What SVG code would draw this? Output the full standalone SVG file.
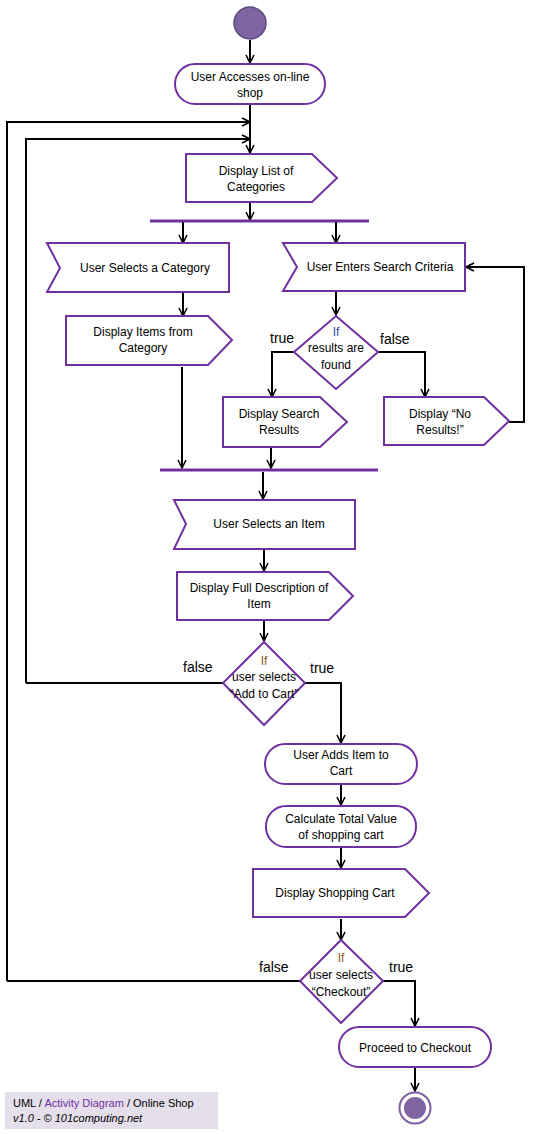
<svg xmlns="http://www.w3.org/2000/svg" width="535" height="1134" viewBox="0 0 535 1134">
<defs>
<marker id="arr" viewBox="0 0 10 10" refX="9" refY="5" markerWidth="10" markerHeight="10" markerUnits="userSpaceOnUse" orient="auto">
<path d="M1,1 L9,5 L1,9" fill="none" stroke="#000" stroke-width="1.6"/>
</marker>
<style>
.n{fill:#fff;stroke:#7030a0;stroke-width:2}
.bar{stroke:#7030a0;stroke-width:3}
.c{fill:none;stroke:#000;stroke-width:2}
.a{marker-end:url(#arr)}
text{font-family:"Liberation Sans",Arial,sans-serif;font-size:12px;fill:#000}
.m{text-anchor:middle}
.lb{font-size:14px}
</style>
</defs>
<rect width="535" height="1134" fill="#fff"/>

<g id="connectors">
<path class="c a" d="M250,40 V63"/>
<path class="c a" d="M250,104 V153"/>
<path class="c a" d="M7,981 V122 H250"/>
<path class="c a" d="M26,683 V139 H250"/>
<path class="c a" d="M250,202 V220"/>
<path class="c a" d="M183,222 V243"/>
<path class="c a" d="M336,222 V243"/>
<path class="c a" d="M183,292 V316"/>
<path class="c a" d="M182,367 V468"/>
<path class="c a" d="M336,291 V315"/>
<path class="c a" d="M294,352 H272 V397"/>
<path class="c a" d="M378,352 H425 V397"/>
<path class="c a" d="M509,422 H524 V267 H466"/>
<path class="c a" d="M271,447 V468"/>
<path class="c a" d="M263,472 V499"/>
<path class="c a" d="M264,549 V571"/>
<path class="c a" d="M264,620 V641"/>
<path class="c" d="M223,683 H26"/>
<path class="c a" d="M305,683 H341 V743"/>
<path class="c a" d="M341,784 V805"/>
<path class="c a" d="M341,847 V868"/>
<path class="c a" d="M341,919 V940"/>
<path class="c" d="M300,981 H7"/>
<path class="c a" d="M383,981 H415 V1026"/>
<path class="c a" d="M415,1068 V1091"/>
</g>

<g id="start"><circle cx="250" cy="23" r="16" fill="#8064a2" stroke="#5c4a7f" stroke-width="1.5"/></g>

<g id="access">
<rect class="n" x="175" y="64" width="150" height="40" rx="20"/>
<text class="m" x="250" y="81">User Accesses on-line</text>
<text class="m" x="250" y="97">shop</text>
</g>

<g id="list-categories">
<path class="n" d="M186,154 H312 L337,178 L312,202 H186 Z"/>
<text class="m" x="256" y="175">Display List of</text>
<text class="m" x="256" y="191">Categories</text>
</g>

<g id="fork"><line class="bar" x1="150" y1="221" x2="369" y2="221"/></g>

<g id="select-category">
<path class="n" d="M47,243 H229 V292 H47 L60,268 Z"/>
<text class="m" x="145" y="272">User Selects a Category</text>
</g>

<g id="search-criteria">
<path class="n" d="M283,243 H465 V291 H283 L297,267 Z"/>
<text class="m" x="380" y="271">User Enters Search Criteria</text>
</g>

<g id="items-from-category">
<path class="n" d="M66,316 H208 L232,340 L208,365 H66 Z"/>
<text class="m" x="143" y="336">Display Items from</text>
<text class="m" x="143" y="352">Category</text>
</g>

<g id="results-found">
<path class="n" d="M336,316 L378,352 L336,389 L294,352 Z"/>
<text class="m" x="336" y="336" style="fill:#1f4e9f">If</text>
<text class="m" x="336" y="352">results are</text>
<text class="m" x="336" y="369">found</text>
</g>
<text class="lb" x="270" y="343">true</text>
<text class="lb" x="380" y="344">false</text>

<g id="search-results">
<path class="n" d="M223,397 H320 L347,422 L320,447 H223 Z"/>
<text class="m" x="279" y="418">Display Search</text>
<text class="m" x="279" y="434">Results</text>
</g>

<g id="no-results">
<path class="n" d="M384,397 H484 L509,421 L484,445 H384 Z"/>
<text class="m" x="440" y="418">Display “No</text>
<text class="m" x="440" y="434">Results!”</text>
</g>

<g id="join"><line class="bar" x1="160" y1="470" x2="378" y2="470"/></g>

<g id="select-item">
<path class="n" d="M174,500 H355 V549 H174 L186,524 Z"/>
<text class="m" x="269" y="528">User Selects an Item</text>
</g>

<g id="full-description">
<path class="n" d="M177,572 H329 L353,596 L329,620 H177 Z"/>
<text class="m" x="259" y="592">Display Full Description of</text>
<text class="m" x="259" y="608">Item</text>
</g>

<g id="add-to-cart-decision">
<path class="n" d="M264,642 L305,683 L264,725 L223,683 Z"/>
<text class="m" x="264" y="665" style="fill:#8a5a2a">If</text>
<text class="m" x="264" y="681">user selects</text>
<text class="m" x="264" y="698">“Add to Cart”</text>
</g>
<text class="lb" x="183" y="672">false</text>
<text class="lb" x="310" y="673">true</text>

<g id="add-item">
<rect class="n" x="265" y="744" width="152" height="40" rx="20"/>
<text class="m" x="341" y="759">User Adds Item to</text>
<text class="m" x="341" y="775">Cart</text>
</g>

<g id="calculate">
<rect class="n" x="266" y="806" width="150" height="41" rx="20"/>
<text class="m" x="341" y="823">Calculate Total Value</text>
<text class="m" x="341" y="839">of shopping cart</text>
</g>

<g id="shopping-cart">
<path class="n" d="M253,869 H405 L429,893 L405,917 H253 Z"/>
<text class="m" x="335" y="897">Display Shopping Cart</text>
</g>

<g id="checkout-decision">
<path class="n" d="M341,940 L383,981 L341,1023 L300,981 Z"/>
<text class="m" x="341" y="962" style="fill:#8a5a2a">If</text>
<text class="m" x="341" y="979">user selects</text>
<text class="m" x="341" y="996">“Checkout”</text>
</g>
<text class="lb" x="259" y="972">false</text>
<text class="lb" x="389" y="972">true</text>

<g id="checkout">
<rect class="n" x="339" y="1027" width="152" height="40" rx="20"/>
<text class="m" x="415" y="1052">Proceed to Checkout</text>
</g>

<g id="end">
<circle cx="415" cy="1108" r="15.5" fill="#fff" stroke="#7d5fa0" stroke-width="2"/>
<circle cx="415" cy="1108" r="11" fill="#8064a2"/>
</g>

<g id="footer">
<rect x="5" y="1092" width="213" height="37" fill="#e5dfec"/>
<text x="13" y="1107" style="font-size:11px">UML / <tspan style="fill:#7030a0">Activity Diagram</tspan> / Online Shop</text>
<text x="13" y="1122" style="font-size:11px;font-style:italic">v1.0  - © 101computing.net</text>
</g>
</svg>
